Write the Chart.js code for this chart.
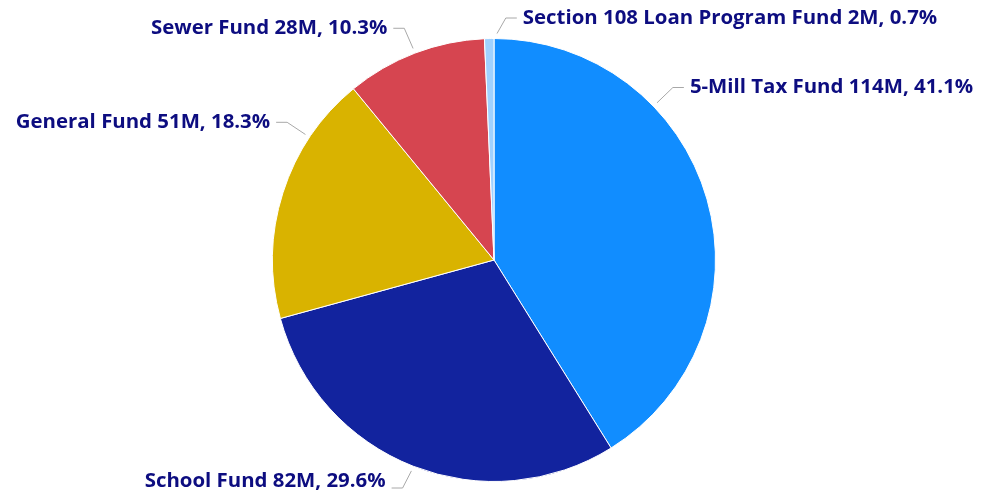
<!DOCTYPE html>
<html>
<head>
<meta charset="utf-8">
<script src="https://cdn.jsdelivr.net/npm/chart.js@4.4.1/dist/chart.umd.min.js"></script>
<style>
html,body{margin:0;padding:0;background:#fff;}
#wrap{width:984px;height:495px;position:relative;}
</style>
</head>
<body>
<div id="wrap"><canvas id="c" width="984" height="495"></canvas></div>
<script>
const categories = ["5-Mill Tax Fund", "School Fund", "General Fund", "Sewer Fund", "Section 108 Loan Program Fund"];
const values = [113.9, 82.0, 50.7, 28.4, 1.9]; // millions
const colors = ["#118DFF", "#12239E", "#D9B300", "#D64550", "#A0D1FF"];

// label layout tweaks (degrees shift of leader anchor), like the original's collision avoidance
const labelShift = [-28, 0, 16, 0, 2];

const total = values.reduce((a, b) => a + b, 0);

const leaderLabels = {
  id: 'leaderLabels',
  afterDatasetsDraw(chart) {
    const ctx = chart.ctx;
    const meta = chart.getDatasetMeta(0);
    const H = chart.height;
    ctx.save();
    ctx.font = 'bold 20.4px "Open Sans", sans-serif';
    meta.data.forEach((arc, i) => {
      const p = arc.getProps(['x', 'y', 'startAngle', 'endAngle', 'outerRadius'], true);
      const mid = (p.startAngle + p.endAngle) / 2 + labelShift[i] * Math.PI / 180;
      const r = p.outerRadius;
      const sx = p.x + (r + 5) * Math.cos(mid);
      const sy = p.y + (r + 5) * Math.sin(mid);
      const right = Math.cos(mid) >= 0;
      let dx = Math.cos(mid), dy = Math.sin(mid);
      if (Math.abs(dx) < 0.4) { dx = right ? 0.4 : -0.4; dy = (dy < 0 ? -1 : 1) * 0.917; }
      const ex = sx + 22 * dx;
      const ey = Math.max(18, Math.min(H - 7, sy + 22 * dy));
      const hx = ex + (right ? 11 : -11);
      ctx.strokeStyle = '#A8A8A8';
      ctx.lineWidth = 1;
      ctx.beginPath();
      ctx.moveTo(sx, sy);
      ctx.lineTo(ex, ey);
      ctx.lineTo(hx, ey);
      ctx.stroke();
      const pct = (values[i] / total * 100).toFixed(1);
      const txt = categories[i] + ' ' + Math.round(values[i]) + 'M, ' + pct + '%';
      ctx.fillStyle = '#0D0D80';
      ctx.textBaseline = 'middle';
      ctx.textAlign = right ? 'left' : 'right';
      const ty = Math.min(ey, H - 14);
      ctx.fillText(txt, hx + (right ? 6 : -6), ty);
    });
    ctx.restore();
  }
};

new Chart(document.getElementById('c'), {
  type: 'pie',
  data: {
    labels: categories,
    datasets: [{
      data: values,
      backgroundColor: colors,
      borderColor: '#ffffff',
      borderWidth: 1
    }]
  },
  options: {
    responsive: false,
    animation: false,
    layout: { padding: { top: 38, bottom: 13, left: 4, right: 0 } },
    plugins: { legend: { display: false }, tooltip: { enabled: false } }
  },
  plugins: [leaderLabels]
});
</script>
</body>
</html>
